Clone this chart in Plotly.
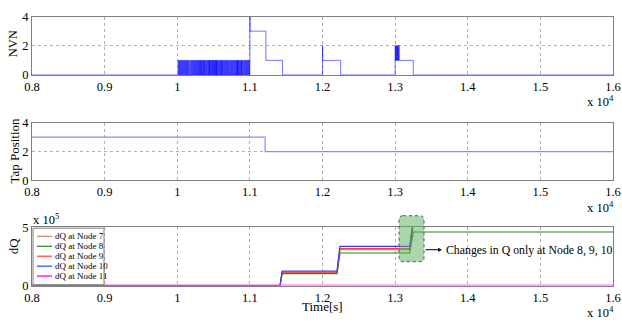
import plotly.graph_objects as go

# ---------------- data ----------------
tick_vals = [8000, 9000, 10000, 11000, 12000, 13000, 14000, 15000, 16000]
tick_labels = ["0.8", "0.9", "1", "1.1", "1.2", "1.3", "1.4", "1.5", "1.6"]

# NVN: dense 0/1 switching pulses (start, end) between 1.0e4 and 1.1e4 s
nvn_pulses_low = [
    (10011, 10018), (10024, 10031), (10037, 10044), (10050, 10057), (10063, 10070),
    (10076, 10083), (10089, 10096), (10102, 10109), (10115, 10122), (10128, 10135),
    (10141, 10148), (10154, 10162), (10172, 10176),
    (10186, 10193), (10199, 10206), (10212, 10219), (10225, 10232), (10238, 10245),
    (10251, 10258), (10264, 10271), (10277, 10284), (10290, 10297), (10299, 10304),
    (10312, 10316), (10322, 10326), (10332, 10336),
    (10342, 10349), (10355, 10362), (10366, 10369), (10376, 10380),
    (10387, 10394), (10400, 10407), (10413, 10420), (10426, 10433), (10437, 10442),
    (10446, 10449),
    (10452, 10459), (10465, 10472), (10478, 10485), (10488, 10493),
    (10500, 10504), (10510, 10514), (10520, 10524), (10530, 10534), (10538, 10541),
    (10544, 10551), (10557, 10564), (10570, 10577), (10583, 10590),
    (10597, 10601), (10607, 10611), (10617, 10621),
    (10627, 10634), (10640, 10647), (10653, 10660), (10666, 10673), (10679, 10686),
    (10692, 10699), (10705, 10712), (10718, 10727),
    (10735, 10739), (10745, 10752), (10760, 10765),
    (10773, 10780), (10786, 10793), (10799, 10806), (10812, 10819), (10822, 10828),
    (10831, 10833),
    (10836, 10843), (10849, 10856), (10862, 10869), (10875, 10882), (10884, 10888),
    (10895, 10900),
    (10910, 10917), (10923, 10930), (10936, 10943), (10949, 10956), (10962, 10969),
    (10975, 10982), (10988, 10995),
]
# NVN: 1 <-> 2 switching pulses near 1.3e4 s
nvn_pulses_high = [
    (13000, 13005), (13010, 13015), (13020, 13025), (13030, 13035),
    (13040, 13045), (13050, 13056),
]
nvn_step_t = [8000, 11000, 11003, 11220, 11450, 12000, 12003, 12250, 13000, 13250, 16000]
nvn_step_v = [0, 4, 3, 1, 0, 2, 1, 0, 1, 0, 0]

# Tap position
tap_t = [8000, 11210, 16000]
tap_v = [3, 2, 2]

# dQ at nodes
dq_t = [8000, 11415, 11445, 12200, 12240, 13200, 13250, 16000]
dq_node7 = [0, 0, 1.12e5, 1.12e5, 3.07e5, 3.07e5, 5.3e5, 5.3e5]
dq_node8 = [0, 0, 1.02e5, 1.02e5, 2.79e5, 2.79e5, 4.59e5, 4.59e5]
dq_node9 = [0, 0, 1.17e5, 1.17e5, 3.16e5, 3.16e5, 5.5e5, 5.5e5]
dq_node10 = [0, 0, 1.25e5, 1.25e5, 3.36e5, 3.36e5, 5.7e5, 5.7e5]
dq_node11 = [0, 0, 0, 0, 0, 0, 0, 0]
dq_names = ["dQ at Node 7", "dQ at Node 8", "dQ at Node 9", "dQ at Node 10", "dQ at Node 11"]
dq_colors = ["#c8806a", "#1a8c1a", "#ff3b3b", "#3a3aff", "#ff55ff"]
dq_widths = [1.2, 1.2, 1.2, 1.2, 2.2]

# ---------------- build NVN series ----------------
pts = [(t, v, 0) for t, v in zip(nvn_step_t, nvn_step_v)]
for s, e in nvn_pulses_low:
    pts += [(s, 1, 1), (e, 0, 1)]
for s, e in nvn_pulses_high:
    pts += [(s, 2, 1), (e, 1, 1)]
pts.sort(key=lambda p: (p[0], p[2]))
nvn_t = [p[0] for p in pts]
nvn_v = [p[1] for p in pts]

FONT = "'Liberation Serif', 'Times New Roman', Times, serif"
W, H = 622, 329
L, R = 32, 9
PW = W - L - R


def px(x, y):
    return (x - L) / PW, (H - y) / H


fig = go.Figure()
fig.add_trace(go.Scatter(x=nvn_t, y=nvn_v, mode="lines", line=dict(color="#0000ff", width=0.55, shape="hv"),
                         xaxis="x", yaxis="y", showlegend=False))
fig.add_trace(go.Scatter(x=tap_t, y=tap_v, mode="lines", line=dict(color="#8a8aff", width=1.2, shape="hv"),
                         xaxis="x2", yaxis="y2", showlegend=False))
for name, ys, c, w in zip(dq_names, [dq_node7, dq_node8, dq_node9, dq_node10, dq_node11], dq_colors, dq_widths):
    fig.add_trace(go.Scatter(x=dq_t, y=ys, mode="lines", name=name, line=dict(color=c, width=w),
                             xaxis="x3", yaxis="y3", showlegend=False))

xcommon = dict(range=[8000, 16000], tickvals=tick_vals, ticktext=tick_labels, showgrid=True,
               gridcolor="#b0b0b0", griddash="dot", gridwidth=1, showline=True, mirror=True,
               linecolor="#808080", linewidth=1, ticks="", zeroline=False, layer="below traces",
               tickfont=dict(family=FONT, size=12.5, color="black"), domain=[0, 1])
ycommon = dict(showline=True, mirror=True, linecolor="#808080", linewidth=1, ticks="", zeroline=False,
               gridcolor="#b0b0b0", griddash="dot", gridwidth=1, layer="below traces",
               tickfont=dict(family=FONT, size=12.5, color="black"))

d1 = [(H - 71) / H, (H - 10) / H]
d2 = [(H - 181) / H, (H - 121) / H]
d3 = [(H - 291) / H, (H - 230) / H]

fig.update_layout(
    width=W, height=H, margin=dict(l=L, r=R, t=0, b=0),
    paper_bgcolor="white", plot_bgcolor="white", showlegend=False,
    font=dict(family=FONT, color="black"),
    xaxis=dict(xcommon, anchor="y"),
    xaxis2=dict(xcommon, anchor="y2"),
    xaxis3=dict(xcommon, anchor="y3"),
    yaxis=dict(ycommon, domain=d1, range=[0, 4], tickvals=[0, 2, 4], showgrid=True, anchor="x"),
    yaxis2=dict(ycommon, domain=d2, range=[0, 4], tickvals=[0, 2, 4], showgrid=True, anchor="x2"),
    yaxis3=dict(ycommon, domain=d3, range=[0, 5e5], tickvals=[0, 5e5], ticktext=["0", "5"],
                showgrid=False, anchor="x3"),
)

ann = []
shapes = []
tf = dict(family=FONT, size=12.5, color="black")

# exponent labels
for yy in [98, 209, 319]:
    x, y = px(616, yy)
    ann.append(dict(x=x, y=y, xref="paper", yref="paper", xanchor="right", yanchor="middle",
                    text="x 10<sup>4</sup>", showarrow=False, font=tf))
x, y = px(31, 221)
ann.append(dict(x=x, y=y, xref="paper", yref="paper", xanchor="left", yanchor="middle",
                text="x 10<sup>5</sup>", showarrow=False, font=tf))

# axis titles
for txt, cx, cy, sz in [("NVN", 13, 39, 12.5), ("Tap Position", 15, 150, 13), ("dQ", 13, 250, 13)]:
    x, y = px(cx, cy)
    ann.append(dict(x=x, y=y, xref="paper", yref="paper", xanchor="center", yanchor="middle",
                    text=txt, textangle=-90, showarrow=False, font=dict(family=FONT, size=sz, color="black")))
x, y = px(322, 313)
ann.append(dict(x=x, y=y, xref="paper", yref="paper", xanchor="center", yanchor="middle",
                text="Time[s]", showarrow=False, font=dict(family=FONT, size=13, color="black")))

# legend (drawn manually to get compact MATLAB-like spacing)
x0, y0 = px(33, 290)
x1, y1 = px(104, 231)
shapes.append(dict(type="rect", xref="paper", yref="paper", x0=x0, y0=y0, x1=x1, y1=y1,
                   line=dict(color="#808080", width=1), fillcolor="white", layer="above"))
for i, (nm, c, w) in enumerate(zip(dq_names, dq_colors, dq_widths)):
    yy = 239.5 + 10.4 * i
    xa, ya = px(37, yy)
    xb, _ = px(52, yy)
    shapes.append(dict(type="line", xref="paper", yref="paper", x0=xa, x1=xb, y0=ya, y1=ya,
                       line=dict(color=c, width=w), layer="above"))
    xt, _ = px(53, yy)
    ann.append(dict(x=xt, y=ya, xref="paper", yref="paper", xanchor="left", yanchor="middle",
                    text=nm, showarrow=False, font=dict(family=FONT, size=9, color="black")))

# highlight box (rounded)
bx0, bx1, by0, by1, r = 399, 424, 218, 266, 4
pts_path = [("M", bx0 + r, by0), ("L", bx1 - r, by0), ("Q", bx1, by0, bx1, by0 + r), ("L", bx1, by1 - r),
            ("Q", bx1, by1, bx1 - r, by1), ("L", bx0 + r, by1), ("Q", bx0, by1, bx0, by1 - r),
            ("L", bx0, by0 + r), ("Q", bx0, by0, bx0 + r, by0)]
path = ""
for seg in pts_path:
    cmd = seg[0]
    coords = seg[1:]
    parts = []
    for k in range(0, len(coords), 2):
        a, b = px(coords[k], coords[k + 1])
        parts.append(f"{a:.5f},{b:.5f}")
    path += cmd + " ".join(parts) + " "
path += "Z"
shapes.append(dict(type="path", xref="paper", yref="paper", path=path,
                   fillcolor="rgba(85,175,85,0.5)", line=dict(color="#555555", width=1, dash="dot"),
                   layer="above"))

# arrow + text
xa, ya = px(442, 253.5)
ann.append(dict(x=xa, y=ya, xref="paper", yref="paper", ax=-18, ay=0, text="", showarrow=True,
                arrowhead=2, arrowsize=0.8, arrowwidth=1, arrowcolor="black"))
xt, yt = px(444, 254)
ann.append(dict(x=xt, y=yt, xref="paper", yref="paper", xanchor="left", yanchor="middle",
                text="Changes in Q only at Node 8, 9, 10", showarrow=False,
                font=dict(family=FONT, size=11.8, color="black")))

fig.update_layout(annotations=ann, shapes=shapes)
fig.write_html("out.html")
